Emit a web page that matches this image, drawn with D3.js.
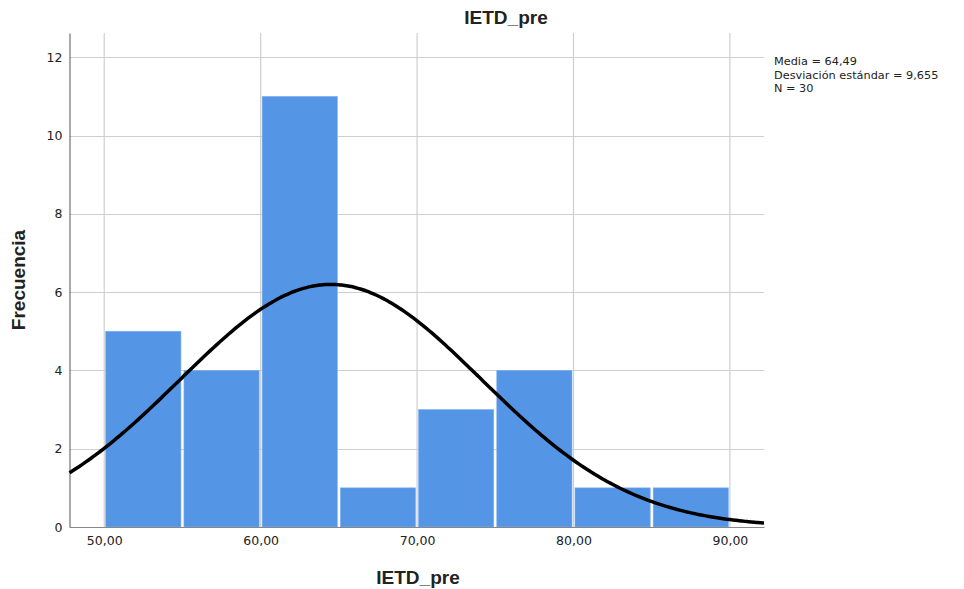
<!DOCTYPE html>
<html>
<head>
<meta charset="utf-8">
<script src="https://cdn.jsdelivr.net/npm/d3@7"></script>
<style>
  body { margin: 0; background: #fff; }
  svg text { font-family: "DejaVu Sans", sans-serif; fill: #222; }
  .bold { font-family: "Liberation Sans", Arial, sans-serif; font-weight: bold; }
</style>
</head>
<body>
<svg id="chart" width="964" height="589"></svg>
<script>
/* Data */

var binStarts = [50, 55, 60, 65, 70, 75, 80, 85];
var binCounts = [5, 4, 11, 1, 3, 4, 1, 1];
var BIN_WIDTH = 5;
var xTicks = [50, 60, 70, 80, 90];
var yTicks = [0, 2, 4, 6, 8, 10, 12];
var statLines = ["Media = 64,49", "Desviación estándar = 9,655", "N = 30"];
var MEAN = 64.49, SD = 9.655, N = 30;

/* Measures */

var W = 964, H = 589;
var plot = { left: 69.5, right: 764, top: 33, bottom: 527 };
var BAR_COLOR = "#5595e5",
    GRID_COLOR = "#cfcfcf";

var svg = d3.select("#chart");

var x = d3.scaleLinear().domain([47.78, 92.18]).range([plot.left, plot.right]);
var y = d3.scaleLinear().domain([0, 12.62]).range([plot.bottom, plot.top]);

// grid
svg.append("g").selectAll("line.h")
  .data(yTicks.slice(1))
  .enter().append("line")
  .attr("x1", plot.left).attr("x2", plot.right)
  .attr("y1", function(d) { return Math.round(y(d)) + 0.5; })
  .attr("y2", function(d) { return Math.round(y(d)) + 0.5; })
  .attr("stroke", GRID_COLOR).attr("stroke-width", 1.2);

svg.append("g").selectAll("line.v")
  .data(xTicks)
  .enter().append("line")
  .attr("x1", function(d) { return x(d); })
  .attr("x2", function(d) { return x(d); })
  .attr("y1", plot.top).attr("y2", plot.bottom)
  .attr("stroke", GRID_COLOR).attr("stroke-width", 1.2);

// bars
svg.append("g").selectAll("rect")
  .data(binStarts)
  .enter().append("rect")
  .attr("x", function(d) { return x(d) + 1.5; })
  .attr("width", function(d) { return x(d + BIN_WIDTH) - x(d) - 3; })
  .attr("y", function(d, i) { return y(binCounts[i]); })
  .attr("height", function(d, i) { return y(0) - y(binCounts[i]); })
  .attr("fill", BAR_COLOR)
  .attr("stroke", "#7fb0ee").attr("stroke-width", 0.6);

// axes
var xAxis = svg.append("g")
  .attr("transform", "translate(0," + plot.bottom + ")")
  .call(d3.axisBottom(x).tickValues(xTicks).tickSize(0).tickPadding(9)
    .tickFormat(function(d) { return d3.format(".2f")(d).replace(".", ","); }));
xAxis.select(".domain").attr("stroke", "#888");
xAxis.selectAll("text").attr("font-size", 12.5).attr("font-family", "DejaVu Sans");

var yAxis = svg.append("g")
  .attr("transform", "translate(" + plot.left + ",0)")
  .call(d3.axisLeft(y).tickValues(yTicks).tickSize(0).tickPadding(7));
yAxis.select(".domain").attr("stroke", "#555");
yAxis.selectAll("text").attr("font-size", 12.5).attr("font-family", "DejaVu Sans");

// normal curve
var curveXs = d3.range(x.domain()[0], x.domain()[1] + 0.01, 0.2);
var scaleK = N * BIN_WIDTH / (SD * Math.sqrt(2 * Math.PI));
var line = d3.line()
  .x(function(d) { return x(d); })
  .y(function(d) { return y(scaleK * Math.exp(-0.5 * Math.pow((d - MEAN) / SD, 2))); })
  .curve(d3.curveBasis);
svg.append("path")
  .datum(curveXs)
  .attr("d", line)
  .attr("fill", "none")
  .attr("stroke", "#000")
  .attr("stroke-width", 3.5);

// titles
svg.append("text").attr("class", "bold")
  .attr("x", 506).attr("y", 24)
  .attr("text-anchor", "middle").attr("font-size", 19)
  .text("IETD_pre");

svg.append("text").attr("class", "bold")
  .attr("x", 418).attr("y", 584)
  .attr("text-anchor", "middle").attr("font-size", 19)
  .text("IETD_pre");

svg.append("text").attr("class", "bold")
  .attr("transform", "translate(25,280) rotate(-90)")
  .attr("text-anchor", "middle").attr("font-size", 19)
  .text("Frecuencia");

// stats box
svg.append("g").selectAll("text")
  .data(statLines)
  .enter().append("text")
  .attr("x", 774)
  .attr("y", function(d, i) { return 65 + i * 13.5; })
  .attr("font-size", 11.3)
  .text(function(d) { return d; });
</script>
</body>
</html>
